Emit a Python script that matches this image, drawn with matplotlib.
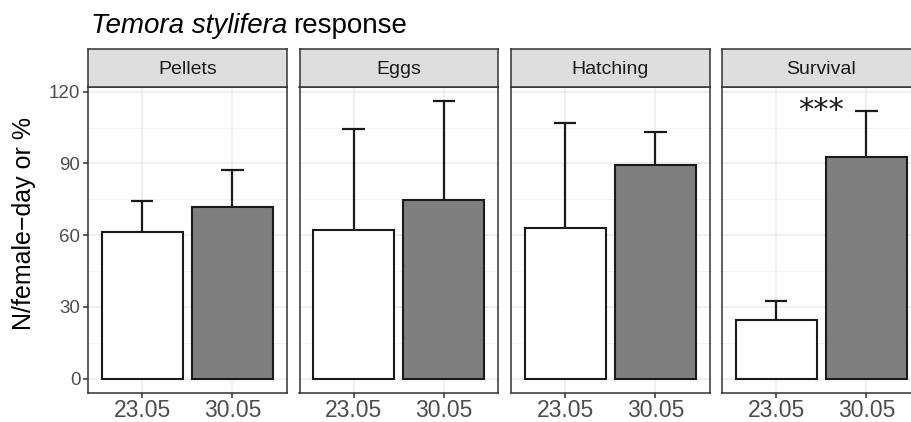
import numpy as np
import matplotlib
matplotlib.use("Agg")
import matplotlib.pyplot as plt

plt.rcParams['font.family'] = ['Liberation Sans', 'DejaVu Sans']

# data
panels = ["Pellets", "Eggs", "Hatching", "Survival"]
dates = ["23.05", "30.05"]
mean_2305 = [61.2, 62.3, 63.0, 24.7]
mean_3005 = [71.6, 74.8, 89.2, 92.8]
upper_2305 = [74.1, 104.5, 106.9, 32.3]
upper_3005 = [87.1, 116.2, 103.1, 112.0]
signif = ["", "", "", "***"]

fill_cols = ["white", "#7f7f7f"]

W, H = 911, 422
fig = plt.figure(figsize=(W / 100, H / 100), dpi=100)

def fx(px):
    return px / W

def fy(px):
    return 1 - px / H

panel_left = [88, 299.5, 511, 722]
panel_w = 198.5
top, bottom, strip_top = 87, 392.5, 49

ylo, yhi = -5.81, 122.0
x = np.arange(1, len(dates) + 1)
ink = '#1a1a1a'

for i, name in enumerate(panels):
    ax = fig.add_axes([fx(panel_left[i]), fy(bottom), fx(panel_w), (bottom - top) / H])
    ax.set_xlim(0.4, 2.6)
    ax.set_ylim(ylo, yhi)
    ax.set_yticks([0, 30, 60, 90, 120])
    ax.set_yticks([15, 45, 75, 105], minor=True)
    ax.set_xticks(x)
    ax.set_xticklabels(dates)
    ax.grid(True, which='major', color='#ebebeb', lw=1.1, zorder=0)
    ax.grid(True, which='minor', axis='y', color='#f3f3f3', lw=0.6, zorder=0)
    ax.set_axisbelow(True)
    for s in ax.spines.values():
        s.set_color('#333333')
        s.set_linewidth(1.1)
    ax.tick_params(which='major', length=3.5, width=1.1, color='#333333',
                   labelcolor='#4d4d4d', pad=2)
    ax.tick_params(axis='x', labelsize=16.5, pad=1.5)
    ax.tick_params(axis='y', labelsize=13.5)
    ax.tick_params(which='minor', length=0)
    if i > 0:
        ax.tick_params(axis='y', which='both', left=False, labelleft=False)

    means = [mean_2305[i], mean_3005[i]]
    uppers = [upper_2305[i], upper_3005[i]]
    # error bars, only upper half shows above the bar
    for xi, m, u in zip(x, means, uppers):
        ax.plot([xi, xi], [m, u], color=ink, lw=1.6, zorder=2, solid_capstyle='butt')
        ax.plot([xi - 0.125, xi + 0.125], [u, u], color=ink, lw=1.6, zorder=2, solid_capstyle='butt')
    ax.bar(x, means, width=0.9, color=fill_cols, edgecolor=ink, linewidth=1.5, zorder=3)
    if signif[i]:
        ax.text(1.5, 108.7, signif[i], ha='center', va='baseline', fontsize=22,
                color=ink, family='DejaVu Sans')

    # strip
    sax = fig.add_axes([fx(panel_left[i]), fy(top), fx(panel_w), (top - strip_top) / H])
    sax.set_facecolor('#dedede')
    sax.set_xticks([])
    sax.set_yticks([])
    for s in sax.spines.values():
        s.set_color('#333333')
        s.set_linewidth(1.1)
    sax.text(0.5, 0.47, name, ha='center', va='center', fontsize=14, color=ink,
             transform=sax.transAxes)

# title: italic species name + plain word
t1 = fig.text(fx(91), fy(33), "Temora stylifera", fontsize=20, fontstyle='italic',
              ha='left', va='baseline', color='black')
fig.canvas.draw()
bb = t1.get_window_extent()
fig.text(bb.x1 / W + fx(6), fy(33), "response", fontsize=20,
         ha='left', va='baseline', color='black')
fig.text(fx(24), fy(223), "N/female\u2212day or %", rotation=90, fontsize=18,
         ha='center', va='center', color='black')

fig.savefig("out.png", dpi=100)
